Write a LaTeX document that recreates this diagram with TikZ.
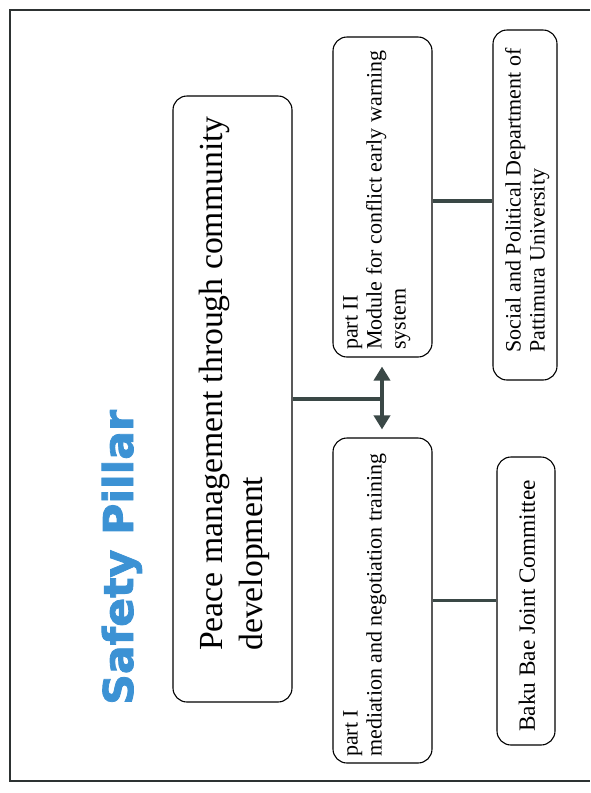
\documentclass[tikz,border=0pt]{standalone}
\usepackage{fontspec}
\setmainfont{Liberation Serif}
\newfontfamily\titlefont[FakeBold=2]{DejaVu Sans}
\usetikzlibrary{arrows.meta,calc}
\definecolor{pillarblue}{RGB}{60,146,212}
\definecolor{connc}{RGB}{58,72,70}
\definecolor{framec}{RGB}{45,50,50}
\begin{document}
\begin{tikzpicture}[x=1pt,y=-1pt,
  box/.style={draw=black, line width=1.1pt, rounded corners=14pt, inner sep=0pt},
  conn/.style={draw=connc, line width=3.6pt},
  rtext/.style={rotate=90, inner sep=0pt, align=left},
  tipstyle/.style={-{Triangle[length=14pt,width=16pt]}}]
\useasboundingbox (0,0) rectangle (590,793);
\draw[framec, line width=2pt] (590,10) -- (10,10) -- (10,781) -- (590,781);

% boxes
\node[box, minimum width=119pt, minimum height=606pt] (main) at (232.5,399) {};
\node[box, minimum width=99pt, minimum height=320pt] (partII) at (382.5,197) {};
\node[box, minimum width=99pt, minimum height=325pt] (partI) at (382.5,600.5) {};
\node[box, minimum width=64pt, minimum height=350pt] (social) at (525,205) {};
\node[box, minimum width=58pt, minimum height=288pt] (baku) at (526,601) {};

% texts
\node[rtext, anchor=base west, text=pillarblue, font=\titlefont\bfseries\fontsize{41}{41}\selectfont] (title) at (133,705) {\scalebox{1.04}[1]{Safety Pillar}};
\node[rtext, anchor=north west, font=\fontsize{33.7}{40}\selectfont] (maintext) at (199,651) {Peace management through community\\development};
\node[rtext, anchor=north west, font=\fontsize{22}{24}\selectfont] (partIItext) at (343,350) {part II\\Module for conflict early warning\\system};
\node[rtext, anchor=north west, font=\fontsize{22}{24}\selectfont] (partItext) at (343,757) {part I\\mediation and negotiation training};
\node[rtext, anchor=north west, font=\fontsize{22}{24}\selectfont] (socialtext) at (505,353) {Social and Political Department of\\Pattimura University};
\node[rtext, anchor=center, font=\fontsize{23.3}{26}\selectfont] (bakutext) at (527,606) {Baku Bae Joint Committee};

% connectors
\coordinate (J) at (382,399);
\coordinate (r2) at (0,201);
\draw[conn] (main.east) -- (J);
\draw[conn, tipstyle, shorten >=9pt] (J) -- (J |- partII.south);
\draw[conn, tipstyle, shorten >=8pt] (J) -- (J |- partI.north);
\draw[conn] (partII.east |- r2) -- (social.west |- r2);
\draw[conn] (partI.east) -- (partI.east -| baku.west);
\end{tikzpicture}
\end{document}
